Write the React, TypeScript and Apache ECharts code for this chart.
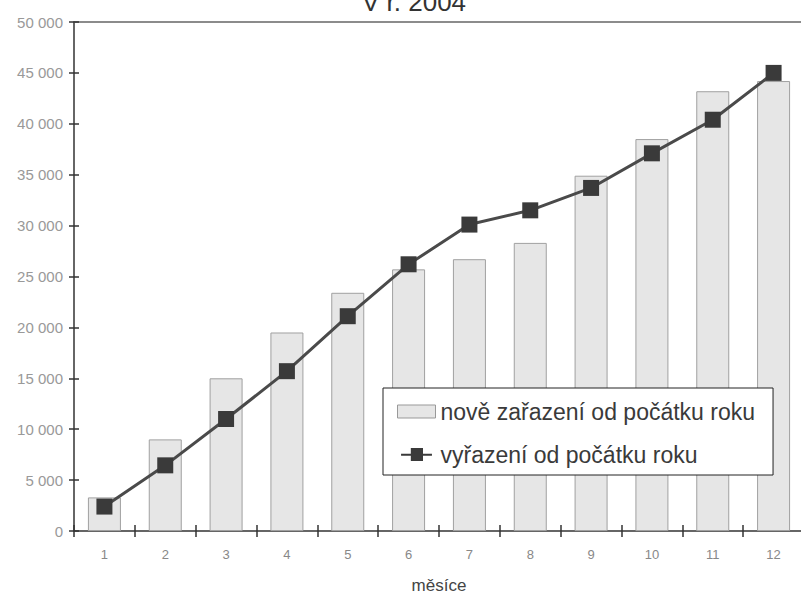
import React, { useEffect, useRef } from "react";
import * as echarts from "echarts";

const months = ["1", "2", "3", "4", "5", "6", "7", "8", "9", "10", "11", "12"];
const newAdded = [3300, 9000, 15000, 19500, 23400, 25700, 26700, 28300, 34900, 38500, 43200, 44200];
const removed = [2400, 6450, 11000, 15700, 21100, 26200, 30100, 31500, 33700, 37100, 40400, 45000];
const titleText = "V r. 2004";
const xName = "měsíce";
const barName = "nově zařazení od počátku roku";
const lineName = "vyřazení od počátku roku";

const fmt = (v: number) => String(v).replace(/\B(?=(\d{3})+(?!\d))/g, " ");

export default function App() {
  const ref = useRef<HTMLDivElement>(null);
  useEffect(() => {
    const chart = echarts.init(ref.current!, null, { renderer: "svg" });
    const font = "Liberation Sans, Arial, sans-serif";
    chart.setOption({
      animation: false,
      backgroundColor: "#fff",
      textStyle: { fontFamily: font },
      title: {
        text: titleText,
        left: 362,
        top: -11,
        padding: 0,
        textStyle: { fontSize: 26, fontWeight: "normal", color: "#333", fontFamily: font },
      },
      grid: { left: 74, right: -3, top: 22, bottom: 64, containLabel: false, outerBoundsMode: "none" },
      legend: {
        orient: "vertical",
        left: 383,
        top: 388,
        padding: [12, 18, 9, 14],
        itemGap: 20,
        itemWidth: 38,
        itemHeight: 13,
        backgroundColor: "#fff",
        borderColor: "#222",
        borderWidth: 1,
        borderRadius: 0,
        textStyle: { fontSize: 23, color: "#3a3a3a", fontFamily: font },
        data: [
          { name: barName, icon: "rect", itemStyle: { color: "#e6e6e6", borderColor: "#999", borderWidth: 1 } },
          {
            name: lineName,
            icon: "path://M0,7 L38,7 L38,9.5 L0,9.5 Z M12,0 L27,0 L27,16 L12,16 Z",
          },
        ],
      },
      xAxis: [
        {
          type: "category",
          data: months,
          position: "bottom",
          axisLine: { lineStyle: { color: "#333", width: 1.5 } },
          axisTick: { show: true, length: 6, lineStyle: { color: "#333", width: 1.5 } },
          axisLabel: { color: "#888", fontSize: 13, margin: 17 },
          name: xName,
          nameLocation: "middle",
          nameGap: 46,
          nameTextStyle: { fontSize: 17, color: "#444" },
        },
        {
          type: "category",
          data: months,
          position: "bottom",
          axisLine: { show: false },
          axisTick: { show: true, inside: true, length: 6, lineStyle: { color: "#333", width: 1.5 } },
          axisLabel: { show: false },
        },
        {
          type: "category",
          data: months,
          position: "top",
          axisLine: { show: true, lineStyle: { color: "#666", width: 1.5 } },
          axisTick: { show: false },
          axisLabel: { show: false },
        },
      ],
      yAxis: [
        {
          type: "value",
          min: 0,
          max: 50000,
          interval: 5000,
          axisLine: { show: true, lineStyle: { color: "#333", width: 1.5 } },
          axisTick: { show: true, length: 5, lineStyle: { color: "#333", width: 1.5 } },
          axisLabel: { color: "#999", fontSize: 15, margin: 11, formatter: (v: number) => fmt(v) },
          splitLine: { show: false },
        },
        {
          type: "value",
          min: 0,
          max: 50000,
          interval: 5000,
          position: "left",
          axisLine: { show: false },
          axisTick: { show: true, inside: true, length: 5, lineStyle: { color: "#333", width: 1.5 } },
          axisLabel: { show: false },
          splitLine: { show: false },
        },
      ],
      series: [
        {
          name: barName,
          type: "bar",
          data: newAdded,
          barWidth: 33,
          itemStyle: { color: "#e6e6e6", borderColor: "#a0a0a0", borderWidth: 1 },
        },
        {
          name: lineName,
          type: "line",
          data: removed,
          symbol: "rect",
          symbolSize: 16,
          lineStyle: { color: "#4a4a4a", width: 3 },
          itemStyle: { color: "#3a3a3a" },
        },
      ],
    });
    return () => chart.dispose();
  }, []);
  return (
    <div
      ref={ref}
      style={{ position: "absolute", left: 0, top: 0, width: 801, height: 595 }}
    />
  );
}
